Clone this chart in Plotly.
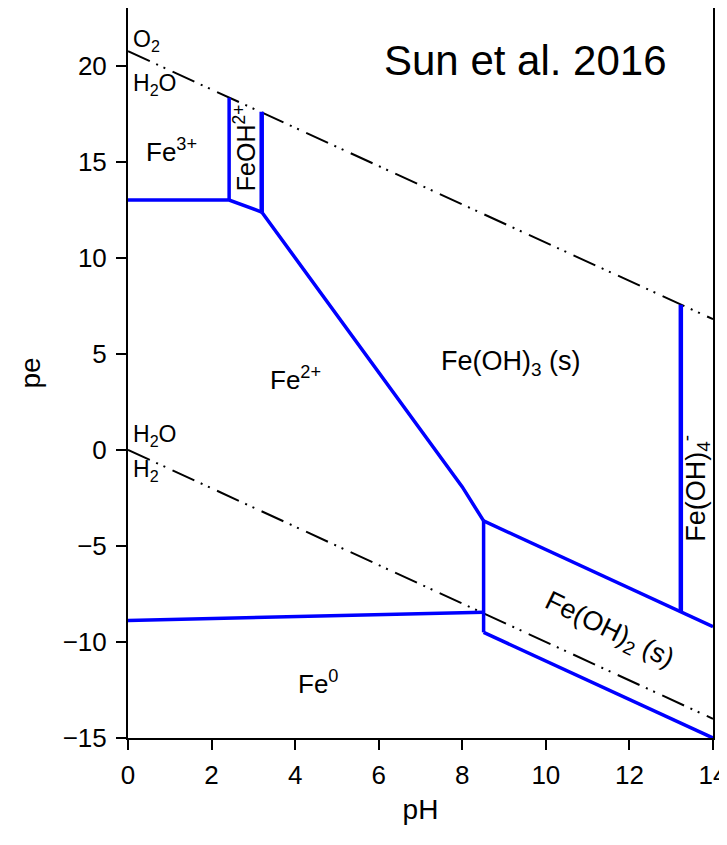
import plotly.graph_objects as go

# ---- data (pH, pe) ----
water_upper_ph = [0, 14]
water_upper_pe = [20.75, 6.8]
water_lower_ph = [0, 14]
water_lower_pe = [0.0, -14.0]

fe3_fe2_ph = [0, 2.42, 3.2]
fe3_fe2_pe = [13.0, 13.0, 12.38]
fe3_feoh_ph = [2.42, 2.42]
fe3_feoh_pe = [13.0, 18.33]
feoh_feoh3_ph = [3.2, 3.2]
feoh_feoh3_pe = [12.38, 17.6]
fe2_feoh3_ph = [3.2, 8.0, 8.51]
fe2_feoh3_pe = [12.38, -1.93, -3.7]
feoh3_feoh2_ph = [8.51, 14.0]
feoh3_feoh2_pe = [-3.7, -9.2]
feoh3_feoh4_ph = [13.23, 13.23]
feoh3_feoh4_pe = [7.55, -8.42]
fe2_feoh2_ph = [8.51, 8.51]
fe2_feoh2_pe = [-3.7, -9.5]
fe2_fe0_ph = [0, 8.51]
fe2_fe0_pe = [-8.88, -8.45]
feoh2_fe0_ph = [8.51, 14.0]
feoh2_fe0_pe = [-9.5, -15.0]

labels = [
    # text, pH, pe, angle, size, xanchor
    ("Sun et al. 2016", 9.52, 20.25, 0, 42, "center"),
    ("O<sub>2</sub>", 0.08, 21.3, 0, 23, "left"),
    ("H<sub>2</sub>O", 0.08, 19.0, 0, 23, "left"),
    ("Fe<sup>3+</sup>", 1.05, 15.6, 0, 26, "center"),
    ("FeOH<sup>2+</sup>", 2.8, 15.7, -90, 25, "center"),
    ("Fe<sup>2+</sup>", 4.0, 3.7, 0, 26, "center"),
    ("Fe(OH)<sub>3</sub> (s)", 9.16, 4.5, 0, 27, "center"),
    ("H<sub>2</sub>O", 0.08, 0.75, 0, 23, "left"),
    ("H<sub>2</sub>", 0.08, -1.1, 0, 23, "left"),
    ("Fe(OH)<sub>4</sub><sup>-</sup>", 13.58, -2.0, -90, 27, "center"),
    ("Fe(OH)<sub>2</sub> (s)", 11.5, -9.45, 26, 27, "center"),
    ("Fe<sup>0</sup>", 4.55, -12.1, 0, 26, "center"),
]

FONT = "Liberation Sans, Arial, sans-serif"
BLUE = "#0000FF"

fig = go.Figure()

dashdot = "24px,7px,2px,6px,2px,8px"
for xs, ys in [(water_upper_ph, water_upper_pe), (water_lower_ph, water_lower_pe)]:
    fig.add_trace(go.Scatter(x=xs, y=ys, mode="lines",
                             line=dict(color="black", width=2, dash=dashdot),
                             hoverinfo="skip", showlegend=False))

blue_sets = [
    (fe3_fe2_ph, fe3_fe2_pe, 3.5),
    (fe3_feoh_ph, fe3_feoh_pe, 3.5),
    (feoh_feoh3_ph, feoh_feoh3_pe, 4.5),
    (fe2_feoh3_ph, fe2_feoh3_pe, 3.5),
    (feoh3_feoh2_ph, feoh3_feoh2_pe, 3.5),
    (feoh3_feoh4_ph, feoh3_feoh4_pe, 4.5),
    (fe2_feoh2_ph, fe2_feoh2_pe, 3.5),
    (fe2_fe0_ph, fe2_fe0_pe, 3.5),
    (feoh2_fe0_ph, feoh2_fe0_pe, 3.5),
]
for xs, ys, w in blue_sets:
    fig.add_trace(go.Scatter(x=xs, y=ys, mode="lines",
                             line=dict(color=BLUE, width=w),
                             hoverinfo="skip", showlegend=False))

for text, x, y, ang, size, xa in labels:
    fig.add_annotation(x=x, y=y, text=text, showarrow=False, textangle=ang,
                       xanchor=xa, yanchor="middle",
                       font=dict(family=FONT, size=size, color="black"))

fig.update_layout(
    width=719, height=829,
    margin=dict(l=120, r=14, t=0, b=99),
    plot_bgcolor="white", paper_bgcolor="white",
    font=dict(family=FONT, color="black"),
    xaxis=dict(range=[0, 14], tickvals=[0, 2, 4, 6, 8, 10, 12, 14],
               showgrid=False, zeroline=False, showline=True, linecolor="black",
               linewidth=2, mirror=True, ticks="outside", ticklen=10, tickwidth=2,
               tickcolor="black", tickfont=dict(size=26, family=FONT), automargin=False,
               ticklabelstandoff=3, ticklabeloverflow="allow",
               title=dict(text="pH", font=dict(size=28, family=FONT), standoff=10)),
    yaxis=dict(range=[-15, 23], tickvals=[-15, -10, -5, 0, 5, 10, 15, 20],
               showgrid=False, zeroline=False, showline=True, linecolor="black",
               linewidth=2, mirror=True, ticks="outside", ticklen=10, tickwidth=2,
               tickcolor="black", tickfont=dict(size=26, family=FONT), automargin=False,
               ticklabelstandoff=4,
               title=dict(text="pe", font=dict(size=28, family=FONT), standoff=14)),
)

fig.write_html("out.html")
